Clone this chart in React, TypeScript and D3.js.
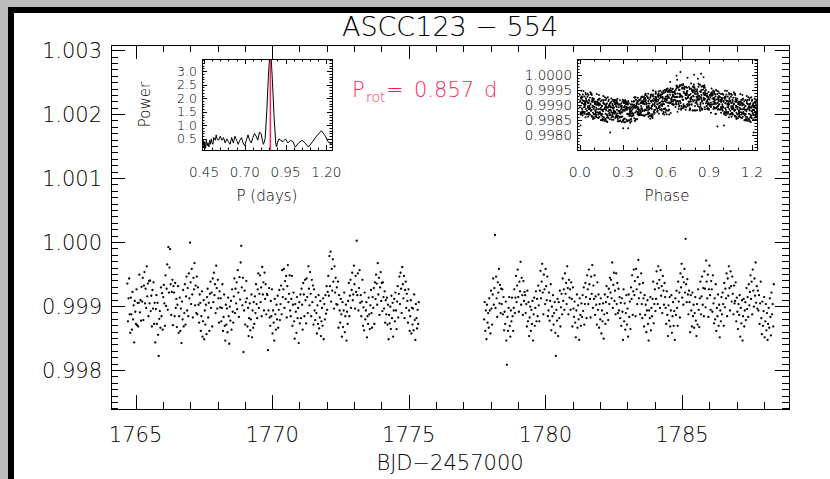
import React from 'react';
import * as d3 from 'd3';

const TITLE = 'ASCC123 \u2212 554';
const X_TITLE = 'BJD\u22122457000';
const P_ROT = 0.857;
const CADENCE = 0.020833;
const SEG1_START = 1764.70;
const SEG2_START = 1777.76;

const SEG1_FLUX = [
  0.99935,0.99876,0.99912,0.99943,0.99887,0.99858,0.99913,0.99887,0.99863,0.99922,0.99879,0.99901,0.99843,0.99908,0.99891,0.99872,0.99926,0.99870,0.99905,0.99868,0.99905,0.99949,0.99890,0.99909,0.99877,0.99930,0.99907,0.99944,0.99878,0.99932,0.99953,0.99904,0.99927,0.99897,0.99962,0.99915,0.99935,0.99884,0.99939,0.99904,0.99940,
  0.99892,0.99916,0.99868,0.99925,0.99896,0.99937,0.99872,0.99905,0.99843,0.99895,0.99917,0.99872,0.99905,0.99855,0.99822,0.99880,0.99892,0.99866,0.99929,0.99884,0.99920,0.99863,0.99914,0.99933,0.99904,0.99869,0.99948,0.99900,0.99927,0.99965,0.99894,0.99992,0.99921,0.99960,0.99989,0.99934,0.99886,0.99922,0.99941,0.99870,0.99931,
  0.99921,0.99884,0.99936,0.99897,0.99911,0.99867,0.99902,0.99931,0.99858,0.99884,0.99913,0.99861,0.99896,0.99842,0.99907,0.99879,0.99925,0.99868,0.99889,0.99934,0.99871,0.99915,0.99946,0.99893,0.99928,0.99884,0.99951,0.99912,0.99999,0.99937,0.99903,0.99958,0.99918,0.99882,0.99944,0.99926,0.99967,0.99901,0.99932,0.99889,0.99946,
  0.99887,0.99929,0.99902,0.99874,0.99918,0.99905,0.99861,0.99884,0.99923,0.99852,0.99876,0.99909,0.99848,0.99893,0.99871,0.99902,0.99856,0.99914,0.99927,0.99882,0.99905,0.99861,0.99919,0.99938,0.99897,0.99921,0.99868,0.99943,0.99906,0.99952,0.99917,0.99934,0.99889,0.99963,0.99928,0.99896,0.99941,0.99912,0.99874,0.99923,0.99898,
  0.99912,0.99876,0.99897,0.99934,0.99861,0.99883,0.99918,0.99869,0.99846,0.99902,0.99871,0.99896,0.99859,0.99913,0.99884,0.99841,0.99899,0.99877,0.99908,0.99863,0.99926,0.99891,0.99874,0.99915,0.99943,0.99889,0.99927,0.99904,0.99937,0.99895,0.99956,0.99921,0.99883,0.99945,0.99910,0.99968,0.99994,0.99929,0.99901,0.99944,0.99828,
  0.99893,0.99924,0.99871,0.99906,0.99939,0.99912,0.99868,0.99897,0.99853,0.99881,0.99904,0.99862,0.99879,0.99918,0.99851,0.99893,0.99866,0.99906,0.99872,0.99915,0.99889,0.99934,0.99903,0.99881,0.99926,0.99951,0.99897,0.99919,0.99948,0.99906,0.99929,0.99884,0.99961,0.99918,0.99937,0.99893,0.99952,0.99911,0.99934,0.99887,0.99919,
  0.99917,0.99831,0.99893,0.99928,0.99882,0.99869,0.99908,0.99884,0.99926,0.99857,0.99893,0.99874,0.99846,0.99911,0.99887,0.99863,0.99902,0.99879,0.99916,0.99866,0.99894,0.99925,0.99878,0.99903,0.99932,0.99887,0.99956,0.99914,0.99926,0.99958,0.99897,0.99939,0.99911,0.99947,0.99882,0.99931,0.99964,0.99906,0.99919,0.99948,0.99893,
  0.99884,0.99911,0.99947,0.99869,0.99902,0.99921,0.99876,0.99849,0.99903,0.99891,0.99858,0.99914,0.99881,0.99897,0.99842,0.99906,0.99873,0.99918,0.99881,0.99927,0.99902,0.99863,0.99936,0.99918,0.99884,0.99941,0.99909,0.99873,0.99943,0.99914,0.99889,0.99962,0.99927,0.99901,0.99953,0.99919,0.99884,0.99941,0.99906,0.99932,0.99871,
  0.99926,0.99893,0.99878,0.99914,0.99889,0.99857,0.99901,0.99872,0.99917,0.99865,0.99882,0.99908,0.99853,0.99876,0.99897,0.99869,0.99912,0.99848,0.99903,0.99879,0.99917,0.99888,0.99931,0.99894,0.99922,0.99947,0.99916,0.99978,0.99931,0.99985,0.99907,0.99958,0.99924,0.99973,0.99938,0.99896,0.99962,0.99921,0.99944,0.99903,0.99929,
  0.99902,0.99938,0.99866,0.99917,0.99893,0.99874,0.99911,0.99887,0.99852,0.99906,0.99867,0.99893,0.99921,0.99859,0.99884,0.99902,0.99846,0.99891,0.99872,0.99908,0.99936,0.99884,0.99916,0.99941,0.99897,0.99925,0.99952,0.99909,0.99918,0.99963,0.99934,0.99896,0.99947,0.99922,1.00002,0.99917,0.99951,0.99893,0.99928,0.99956,0.99905,
  0.99917,0.99884,0.99907,0.99941,0.99869,0.99898,0.99862,0.99921,0.99879,0.99893,0.99906,0.99851,0.99884,0.99872,0.99913,0.99887,0.99864,0.99901,0.99925,0.99889,0.99866,0.99914,0.99897,0.99928,0.99872,0.99937,0.99911,0.99949,0.99935,0.99902,0.99967,0.99918,0.99944,0.99886,0.99929,0.99953,0.99908,0.99936,0.99892,0.99937,0.99914,
  0.99896,0.99923,0.99874,0.99909,0.99887,0.99913,0.99871,0.99902,0.99848,0.99886,0.99873,0.99899,0.99864,0.99916,0.99881,0.99905,0.99852,0.99893,0.99911,0.99876,0.99921,0.99893,0.99864,0.99907,0.99931,0.99882,0.99919,0.99946,0.99903,0.99952,0.99927,0.99889,0.99961,0.99934,0.99912,0.99947,0.99881,0.99925,0.99938,0.99897,0.99919,
  0.99908,0.99874,0.99926,0.99893,0.99861,0.99884,0.99909,0.99857,0.99897,0.99871,0.99896,0.99862,0.99918,0.99878,0.99847,0.99903,0.99881,0.99865,0.99894,0.99872,0.99906,
];

const SEG2_FLUX = [
  0.99879,0.99906,0.99861,0.99893,0.99848,0.99902,0.99874,0.99889,0.99866,0.99912,0.99893,0.99857,0.99924,0.99896,0.99871,0.99918,0.99943,0.99902,0.99928,1.00011,0.99897,0.99946,0.99912,0.99883,0.99937,0.99921,0.99958,0.99904,0.99933,0.99889,0.99927,
  0.99903,0.99926,0.99887,0.99914,0.99862,0.99891,0.99872,0.99907,0.99846,0.99808,0.99883,0.99861,0.99897,0.99914,0.99869,0.99852,0.99893,0.99876,0.99913,0.99884,0.99861,0.99897,0.99926,0.99889,0.99913,0.99947,0.99906,0.99932,0.99957,0.99914,0.99891,0.99938,0.99923,0.99969,0.99902,0.99944,0.99917,0.99886,0.99939,0.99908,0.99922,
  0.99917,0.99889,0.99903,0.99868,0.99924,0.99876,0.99906,0.99853,0.99882,0.99899,0.99861,0.99894,0.99872,0.99908,0.99846,0.99887,0.99913,0.99869,0.99897,0.99923,0.99876,0.99911,0.99884,0.99932,0.99901,0.99876,0.99924,0.99955,0.99912,0.99938,0.99966,0.99921,0.99887,0.99949,0.99926,0.99903,0.99958,0.99931,0.99909,0.99946,0.99884,
  0.99893,0.99921,0.99877,0.99908,0.99934,0.99862,0.99899,0.99884,0.99917,0.99871,0.99889,0.99906,0.99858,0.99822,0.99894,0.99877,0.99911,0.99853,0.99906,0.99881,0.99924,0.99868,0.99898,0.99919,0.99887,0.99943,0.99908,0.99926,0.99894,0.99951,0.99919,0.99936,0.99903,0.99962,0.99928,0.99887,0.99941,0.99913,0.99926,0.99894,0.99937,
  0.99911,0.99868,0.99929,0.99896,0.99883,0.99907,0.99874,0.99851,0.99893,0.99918,0.99866,0.99901,0.99879,0.99847,0.99912,0.99886,0.99869,0.99904,0.99883,0.99917,0.99892,0.99929,0.99871,0.99903,0.99936,0.99914,0.99881,0.99948,0.99926,0.99903,0.99957,0.99934,0.99911,0.99882,0.99946,0.99919,0.99964,0.99897,0.99932,0.99911,0.99948,
  0.99886,0.99915,0.99902,0.99871,0.99937,0.99894,0.99918,0.99866,0.99903,0.99879,0.99912,0.99857,0.99893,0.99876,0.99904,0.99849,0.99887,0.99918,0.99872,0.99906,0.99931,0.99889,0.99914,0.99878,0.99927,0.99903,0.99944,0.99921,0.99941,0.99912,0.99968,0.99897,0.99933,0.99952,0.99908,0.99924,0.99887,0.99951,0.99903,0.99936,0.99889,
  0.99927,0.99893,0.99914,0.99881,0.99905,0.99869,0.99912,0.99891,0.99847,0.99926,0.99876,0.99904,0.99863,0.99889,0.99917,0.99871,0.99896,0.99852,0.99918,0.99883,0.99907,0.99864,0.99929,0.99911,0.99948,0.99886,0.99923,0.99957,0.99917,0.99939,0.99884,0.99958,0.99926,0.99903,0.99945,0.99972,0.99912,0.99934,0.99887,0.99921,0.99951,
  0.99903,0.99881,0.99936,0.99912,0.99868,0.99917,0.99886,0.99902,0.99859,0.99893,0.99909,0.99872,0.99846,0.99893,0.99881,0.99914,0.99862,0.99897,0.99884,0.99911,0.99938,0.99873,0.99903,0.99926,0.99892,0.99911,0.99954,0.99935,0.99903,0.99962,0.99928,0.99941,0.99897,0.99956,0.99916,0.99931,0.99889,0.99947,0.99924,0.99902,0.99936,
  0.99914,0.99897,0.99872,0.99923,0.99886,0.99853,0.99901,0.99877,0.99914,0.99868,0.99893,0.99917,0.99858,0.99884,0.99906,0.99869,0.99892,0.99847,0.99912,0.99886,0.99924,0.99897,0.99869,0.99938,0.99907,0.99921,0.99882,0.99951,0.99929,0.99966,0.99913,0.99945,0.99902,0.99937,0.99958,0.99921,1.00005,0.99934,0.99906,0.99942,0.99918,
  0.99887,0.99924,0.99906,0.99859,0.99917,0.99893,0.99868,0.99921,0.99884,0.99902,0.99866,0.99889,0.99914,0.99877,0.99853,0.99903,0.99871,0.99926,0.99894,0.99867,0.99912,0.99938,0.99887,0.99915,0.99946,0.99902,0.99928,0.99884,0.99954,0.99927,0.99898,0.99971,0.99938,0.99912,0.99949,0.99883,0.99926,0.99963,0.99917,0.99894,0.99939,
  0.99926,0.99891,0.99948,0.99904,0.99873,0.99912,0.99879,0.99934,0.99861,0.99897,0.99884,0.99918,0.99869,0.99902,0.99851,0.99893,0.99876,0.99914,0.99887,0.99921,0.99903,0.99869,0.99936,0.99898,0.99927,0.99912,0.99951,0.99884,0.99943,0.99916,0.99962,0.99928,0.99893,0.99954,0.99931,0.99907,0.99946,0.99919,0.99887,0.99932,0.99904,
  0.99908,0.99937,0.99876,0.99913,0.99891,0.99864,0.99903,0.99886,0.99917,0.99852,0.99897,0.99873,0.99909,0.99846,0.99884,0.99911,0.99868,0.99893,0.99906,0.99878,0.99928,0.99895,0.99914,0.99883,0.99934,0.99901,0.99922,0.99948,0.99911,0.99938,0.99887,0.99957,0.99924,0.99899,0.99943,0.99916,0.99968,0.99905,0.99931,0.99896,0.99924,
  0.99893,0.99917,0.99872,0.99904,0.99938,0.99881,0.99856,0.99907,0.99869,0.99892,0.99914,0.99851,0.99876,0.99903,0.99862,0.99889,0.99847,0.99872,0.99897,0.99866,0.99912,0.99883,0.99854,0.99921,0.99887,0.99903,0.99868,0.99934,
];

const PERIOD_DAYS = [
  0.44,0.445,0.45,0.455,0.46,0.465,0.47,0.475,0.48,0.485,0.49,0.495,0.50,0.505,0.51,0.52,0.525,0.53,0.54,0.55,
  0.56,0.57,0.58,0.59,0.60,0.61,0.62,0.63,0.64,0.65,0.66,0.67,0.68,0.69,0.70,0.71,0.72,0.73,0.74,0.75,
  0.76,0.77,0.78,0.79,0.80,0.81,0.815,0.825,0.835,0.845,0.852,0.862,0.87,0.88,0.89,0.895,0.90,0.91,0.92,0.935,
  0.95,0.965,0.98,0.995,1.01,1.03,1.05,1.07,1.09,1.11,1.14,1.17,1.19,1.21,1.235,
];
const POWER = [
  0.25,0.45,0.2,0.4,0.15,0.45,0.25,0.35,0.2,0.45,0.3,0.5,0.35,0.3,0.55,0.45,0.65,0.5,0.45,0.6,
  0.45,0.55,0.35,0.5,0.4,0.3,0.55,0.35,0.6,0.45,0.3,0.45,0.55,0.35,0.25,0.45,0.65,0.45,0.35,0.55,
  0.7,0.6,0.45,0.75,0.7,0.4,0.3,0.5,1.5,2.8,3.5,3.5,2.6,1.3,0.35,0.2,0.35,0.5,0.45,0.4,
  0.5,0.35,0.45,0.4,0.2,0.35,0.45,0.35,0.2,0.35,0.6,0.8,0.65,0.4,0.3,
];

const MAIN_X_TICKS = [1765, 1770, 1775, 1780, 1785];
const MAIN_Y_TICKS = [0.998, 0.999, 1.0, 1.001, 1.002, 1.003];
const PGRAM_X_TICKS = [0.45, 0.7, 0.95, 1.2];
const PGRAM_Y_TICKS = [0.5, 1.0, 1.5, 2.0, 2.5, 3.0];
const PHASE_X_TICKS = [0.0, 0.3, 0.6, 0.9, 1.2];
const PHASE_Y_TICKS = [0.998, 0.9985, 0.999, 0.9995, 1.0];

const FONT = '"DejaVu Sans", sans-serif';
const WEIGHT = 200;
const RED = '#ff1f5a';

type Box = { left: number; right: number; top: number; bottom: number };

function Frame(props: {
  box: Box;
  x: d3.ScaleLinear<number, number>;
  y: d3.ScaleLinear<number, number>;
  xMajor: number[];
  xMinor: number[];
  yMajor: number[];
  yMinor: number[];
  majorLen: number;
  minorLen: number;
  xFmt: (v: number) => string;
  yFmt: (v: number) => string;
  fontSize: number;
  yFontSize?: number;
  xLabelDy: number;
  yLabelGap: number;
}) {
  const { box, x, y } = props;
  const els: React.ReactNode[] = [];
  const tick = (key: string, x1: number, y1: number, x2: number, y2: number) =>
    els.push(<line key={key} x1={x1} y1={y1} x2={x2} y2={y2} stroke="#000" strokeWidth={1} />);
  const inX = (v: number) => v >= x.domain()[0] && v <= x.domain()[1];
  const inY = (v: number) => v >= y.domain()[0] && v <= y.domain()[1];
  props.xMinor.filter(inX).forEach((v, i) => {
    const px = Math.round(x(v)) + 0.5;
    tick('xmb' + i, px, box.bottom, px, box.bottom - props.minorLen);
    tick('xmt' + i, px, box.top, px, box.top + props.minorLen);
  });
  props.xMajor.filter(inX).forEach((v, i) => {
    const px = Math.round(x(v)) + 0.5;
    tick('xMb' + i, px, box.bottom, px, box.bottom - props.majorLen);
    tick('xMt' + i, px, box.top, px, box.top + props.majorLen);
    els.push(
      <text key={'xl' + i} x={x(v)} y={box.bottom + props.xLabelDy} textAnchor="middle" fontSize={props.fontSize}>
        {props.xFmt(v)}
      </text>
    );
  });
  props.yMinor.filter(inY).forEach((v, i) => {
    const py = Math.round(y(v)) + 0.5;
    tick('yml' + i, box.left, py, box.left + props.minorLen, py);
    tick('ymr' + i, box.right, py, box.right - props.minorLen, py);
  });
  props.yMajor.filter(inY).forEach((v, i) => {
    const py = Math.round(y(v)) + 0.5;
    tick('yMl' + i, box.left, py, box.left + props.majorLen, py);
    tick('yMr' + i, box.right, py, box.right - props.majorLen, py);
    els.push(
      <text key={'yl' + i} x={box.left - props.yLabelGap} y={y(v)} dy="0.36em" textAnchor="end"
        fontSize={props.yFontSize ?? props.fontSize}>
        {props.yFmt(v)}
      </text>
    );
  });
  els.push(
    <rect key="box" x={box.left + 0.5} y={box.top + 0.5} width={box.right - box.left} height={box.bottom - box.top}
      fill="none" stroke="#000" strokeWidth={1} />
  );
  return <g>{els}</g>;
}

export default function App() {
  const W = 830;
  const H = 479;

  const seg1 = SEG1_FLUX.map((f, i) => ({ t: SEG1_START + i * CADENCE, f }));
  const seg2 = SEG2_FLUX.map((f, i) => ({ t: SEG2_START + i * CADENCE, f }));
  const all = seg1.concat(seg2);

  const mainBox: Box = { left: 111, right: 789, top: 45, bottom: 409 };
  const xMain = d3.scaleLinear().domain([1764.1, 1788.92]).range([mainBox.left, mainBox.right]);
  const yMain = d3.scaleLinear().domain([0.99739, 1.00308]).range([mainBox.bottom, mainBox.top]);

  const pgBox: Box = { left: 202, right: 332, top: 59, bottom: 150 };
  const xPg = d3.scaleLinear().domain([0.438, 1.235]).range([pgBox.left, pgBox.right]);
  const yPg = d3.scaleLinear().domain([0.09, 3.45]).range([pgBox.bottom, pgBox.top]);
  const pgLine = d3
    .line<number>()
    .x((_, i) => xPg(PERIOD_DAYS[i]))
    .y((p) => yPg(p));

  const phBox: Box = { left: 577, right: 757, top: 59, bottom: 150 };
  const xPh = d3.scaleLinear().domain([-0.02, 1.235]).range([phBox.left, phBox.right]);
  const yPh = d3.scaleLinear().domain([0.99749, 1.00055]).range([phBox.bottom, phBox.top]);
  const folded: { ph: number; f: number }[] = [];
  all.forEach((d) => {
    const cyc = (d.t - SEG1_START) / P_ROT;
    const ph = cyc - Math.floor(cyc);
    folded.push({ ph, f: d.f });
    folded.push({ ph: ph + 1, f: d.f });
  });

  const range = (a: number, b: number, div: number) => d3.range(a, b + 1).map((v) => v / div);

  return (
    <svg width={W} height={H} style={{ position: 'absolute', left: 0, top: 0, display: 'block' }}
      fontFamily={FONT} fontWeight={WEIGHT}>
      <defs>
        <clipPath id="pgclip">
          <rect x={pgBox.left} y={pgBox.top} width={pgBox.right - pgBox.left} height={pgBox.bottom - pgBox.top} />
        </clipPath>
        <clipPath id="phclip">
          <rect x={phBox.left} y={phBox.top} width={phBox.right - phBox.left} height={phBox.bottom - phBox.top} />
        </clipPath>
      </defs>
      <rect x={0} y={0} width={W} height={H} fill="#bcbcbc" />
      <rect x={8} y={7} width={W} height={H} fill="#000" />
      <rect x={14} y={13} width={W} height={H} fill="#fff" />

      <text x={(mainBox.left + mainBox.right) / 2} y={36} textAnchor="middle" fontSize={27}>
        {TITLE}
      </text>

      <Frame box={mainBox} x={xMain} y={yMain}
        xMajor={MAIN_X_TICKS} xMinor={d3.range(1764, 1790)}
        yMajor={MAIN_Y_TICKS} yMinor={range(9973, 10031, 10000)}
        majorLen={14} minorLen={7}
        xFmt={(v) => String(v)} yFmt={(v) => v.toFixed(3)}
        fontSize={21} xLabelDy={33} yLabelGap={9} />

      <text x={(mainBox.left + mainBox.right) / 2} y={470} textAnchor="middle" fontSize={21}>
        {X_TITLE}
      </text>

      <g>
        {all.map((d, i) => (
          <circle key={i} cx={xMain(d.t)} cy={yMain(d.f)} r={1.15} fill="#000" />
        ))}
      </g>

      <rect x={pgBox.left} y={pgBox.top} width={pgBox.right - pgBox.left} height={pgBox.bottom - pgBox.top} fill="#fff" />
      <g clipPath="url(#pgclip)">
        <path d={pgLine(POWER) || ''} fill="none" stroke="#000" strokeWidth={1} />
      </g>
      <line x1={xPg(P_ROT)} x2={xPg(P_ROT)} y1={pgBox.top} y2={pgBox.bottom} stroke={RED} strokeWidth={1.5} />
      <Frame box={pgBox} x={xPg} y={yPg}
        xMajor={PGRAM_X_TICKS} xMinor={range(9, 24, 20)}
        yMajor={PGRAM_Y_TICKS} yMinor={range(1, 34, 10)}
        majorLen={5} minorLen={2.5}
        xFmt={(v) => v.toFixed(2)} yFmt={(v) => v.toFixed(1)}
        fontSize={13.5} yFontSize={12.5} xLabelDy={27} yLabelGap={5} />
      <text x={(pgBox.left + pgBox.right) / 2} y={201} textAnchor="middle" fontSize={15}>P  (days)</text>
      <text transform={`translate(150,${(pgBox.top + pgBox.bottom) / 2}) rotate(-90)`} textAnchor="middle" fontSize={15}>
        Power
      </text>

      <text fill={RED} fontSize={21}>
        <tspan x={352} y={97}>P</tspan>
        <tspan x={366} y={102} fontSize={14}>rot</tspan>
        <tspan x={386} y={97}>=</tspan>
        <tspan x={414} y={97}>0.857</tspan>
        <tspan x={484} y={97}>d</tspan>
      </text>

      <rect x={phBox.left} y={phBox.top} width={phBox.right - phBox.left} height={phBox.bottom - phBox.top} fill="#fff" />
      <g clipPath="url(#phclip)">
        {folded.map((d, i) => (
          <circle key={i} cx={xPh(d.ph)} cy={yPh(d.f)} r={1.0} fill="#000" />
        ))}
      </g>
      <Frame box={phBox} x={xPh} y={yPh}
        xMajor={PHASE_X_TICKS} xMinor={range(0, 12, 10)}
        yMajor={PHASE_Y_TICKS} yMinor={range(9975, 10005, 10000)}
        majorLen={5} minorLen={2.5}
        xFmt={(v) => v.toFixed(1)} yFmt={(v) => v.toFixed(4)}
        fontSize={14} yFontSize={13.5} xLabelDy={27} yLabelGap={5} />
      <text x={(phBox.left + phBox.right) / 2} y={201} textAnchor="middle" fontSize={15}>Phase</text>
    </svg>
  );
}
